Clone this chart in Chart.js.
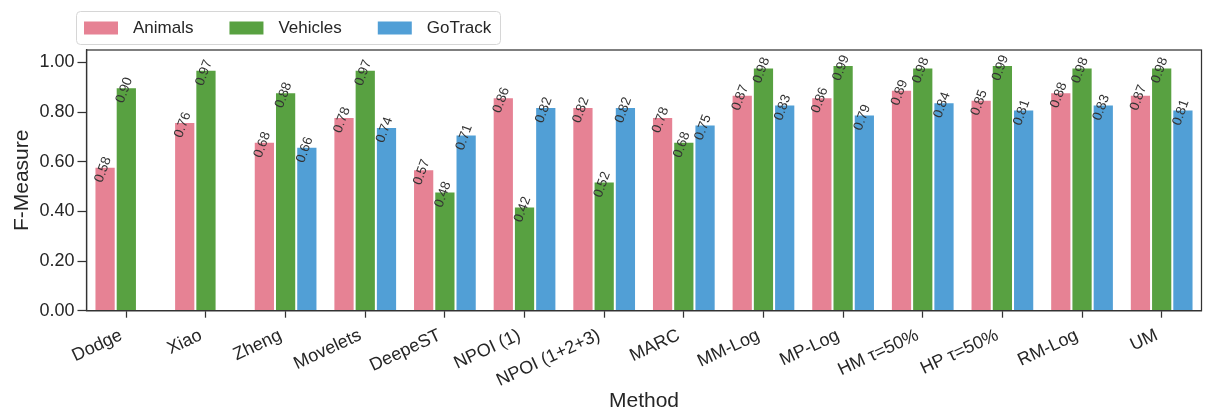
<!DOCTYPE html>
<html>
<head>
<meta charset="utf-8">
<script src="https://cdn.jsdelivr.net/npm/chart.js@4.4.1/dist/chart.umd.min.js"></script>
<style>
  html, body { margin: 0; padding: 0; background: #ffffff; }
  #wrap { width: 1206px; height: 414px; }
</style>
</head>
<body>
<div id="wrap"><canvas id="chart" width="1206" height="414"></canvas></div>
<script>
// Methods compared on three trajectory datasets
const categories = ['Dodge', 'Xiao', 'Zheng', 'Movelets', 'DeepeST', 'NPOI (1)', 'NPOI (1+2+3)',
  'MARC', 'MM-Log', 'MP-Log', 'HM τ=50%', 'HP τ=50%', 'RM-Log', 'UM'];
const animals  = [0.58, 0.76, 0.68, 0.78, 0.57, 0.86, 0.82, 0.78, 0.87, 0.86, 0.89, 0.85, 0.88, 0.87];
const vehicles = [0.90, 0.97, 0.88, 0.97, 0.48, 0.42, 0.52, 0.68, 0.98, 0.99, 0.98, 0.99, 0.98, 0.98];
const gotrack  = [null, null, 0.66, 0.74, 0.71, 0.82, 0.82, 0.75, 0.83, 0.79, 0.84, 0.81, 0.83, 0.81];
const yTicks   = [0.0, 0.2, 0.4, 0.6, 0.8, 1.0];

const FONT = "'Liberation Sans', Arial, Helvetica, sans-serif";
const INK = '#262626';
const SPINE = '#333333';

// Rotated value labels on top of each bar
const barValueLabels = {
  id: 'barValueLabels',
  afterDatasetsDraw(chart) {
    const ctx = chart.ctx;
    ctx.save();
    ctx.font = '13.5px ' + FONT;
    ctx.fillStyle = '#333333';
    ctx.textAlign = 'center';
    ctx.textBaseline = 'middle';
    chart.data.datasets.forEach((ds, i) => {
      const meta = chart.getDatasetMeta(i);
      meta.data.forEach((bar, j) => {
        const v = ds.data[j];
        if (v === null || v === undefined) return;
        ctx.save();
        ctx.translate(bar.x - 2, bar.y + 3);
        ctx.rotate(-70 * Math.PI / 180);
        ctx.fillText(v.toFixed(2), 0, 0);
        ctx.restore();
      });
    });
    ctx.restore();
  }
};

// Closed frame around the plotting area
const plotFrame = {
  id: 'plotFrame',
  afterDraw(chart) {
    const a = chart.chartArea;
    const ctx = chart.ctx;
    ctx.save();
    ctx.strokeStyle = SPINE;
    ctx.lineWidth = 1.25;
    ctx.strokeRect(a.left, a.top, a.right - a.left, a.bottom - a.top);
    ctx.restore();
  }
};

// Boxed legend above the plot
const boxedLegend = {
  id: 'boxedLegend',
  afterDraw(chart) {
    const ctx = chart.ctx;
    const box = { x: 76, y: 11, w: 424, h: 33, r: 4 };
    ctx.save();
    ctx.fillStyle = 'rgba(255,255,255,0.9)';
    ctx.strokeStyle = '#d6d6d6';
    ctx.lineWidth = 1;
    ctx.beginPath();
    ctx.roundRect(box.x + 0.5, box.y + 0.5, box.w, box.h, box.r);
    ctx.fill();
    ctx.stroke();
    ctx.font = '17px ' + FONT;
    ctx.textBaseline = 'middle';
    ctx.textAlign = 'left';
    let x = 84;
    const cy = box.y + box.h / 2 + 0.5;
    chart.data.datasets.forEach(ds => {
      ctx.fillStyle = ds.backgroundColor;
      ctx.fillRect(x, cy - 6.5, 34, 13);
      ctx.fillStyle = INK;
      ctx.fillText(ds.label, x + 49, cy);
      x += 49 + ctx.measureText(ds.label).width + 36;
    });
    ctx.restore();
  }
};

new Chart(document.getElementById('chart'), {
  type: 'bar',
  data: {
    labels: categories,
    datasets: [
      { label: 'Animals',  data: animals,  backgroundColor: '#e68294' },
      { label: 'Vehicles', data: vehicles, backgroundColor: '#58a141' },
      { label: 'GoTrack',  data: gotrack,  backgroundColor: '#519fd6' }
    ]
  },
  options: {
    responsive: false,
    animation: false,
    devicePixelRatio: 1,
    layout: { padding: { top: 50, right: 4.5, bottom: 0, left: 0 } },
    datasets: {
      bar: {
        categoryPercentage: 0.8,
        barPercentage: 1.0,
        borderColor: 'rgba(255,255,255,0.85)',
        borderWidth: 1,
        borderSkipped: 'bottom'
      }
    },
    plugins: {
      legend: { display: false },
      tooltip: { enabled: false }
    },
    scales: {
      x: {
        type: 'category',
        offset: true,
        grid: {
          display: true,
          drawOnChartArea: false,
          drawTicks: true,
          offset: false,
          tickLength: 7,
          tickWidth: 1.25,
          color: SPINE
        },
        border: { display: true, color: SPINE, width: 1.25 },
        ticks: {
          autoSkip: false,
          minRotation: 25,
          maxRotation: 25,
          padding: 7,
          labelOffset: -5,
          color: INK,
          font: { family: FONT, size: 18 }
        },
        title: {
          display: true,
          text: 'Method',
          color: INK,
          font: { family: FONT, size: 21 },
          padding: { top: 0, bottom: 0 }
        },
        afterFit(scale) { scale.height = 103.3; }
      },
      y: {
        min: 0,
        max: 1.05,
        grid: {
          display: true,
          drawOnChartArea: false,
          drawTicks: true,
          tickLength: 9,
          tickWidth: 1.25,
          color: SPINE
        },
        border: { display: true, color: SPINE, width: 1.25 },
        ticks: {
          padding: 3,
          color: INK,
          font: { family: FONT, size: 18 },
          callback: v => Number(v).toFixed(2)
        },
        afterBuildTicks(scale) { scale.ticks = yTicks.map(v => ({ value: v })); },
        title: {
          display: true,
          text: 'F-Measure',
          color: INK,
          font: { family: FONT, size: 21 },
          padding: { top: 10, bottom: 0 }
        },
        afterFit(scale) { scale.width = 86.5; }
      }
    }
  },
  plugins: [barValueLabels, plotFrame, boxedLegend]
});
</script>
</body>
</html>
